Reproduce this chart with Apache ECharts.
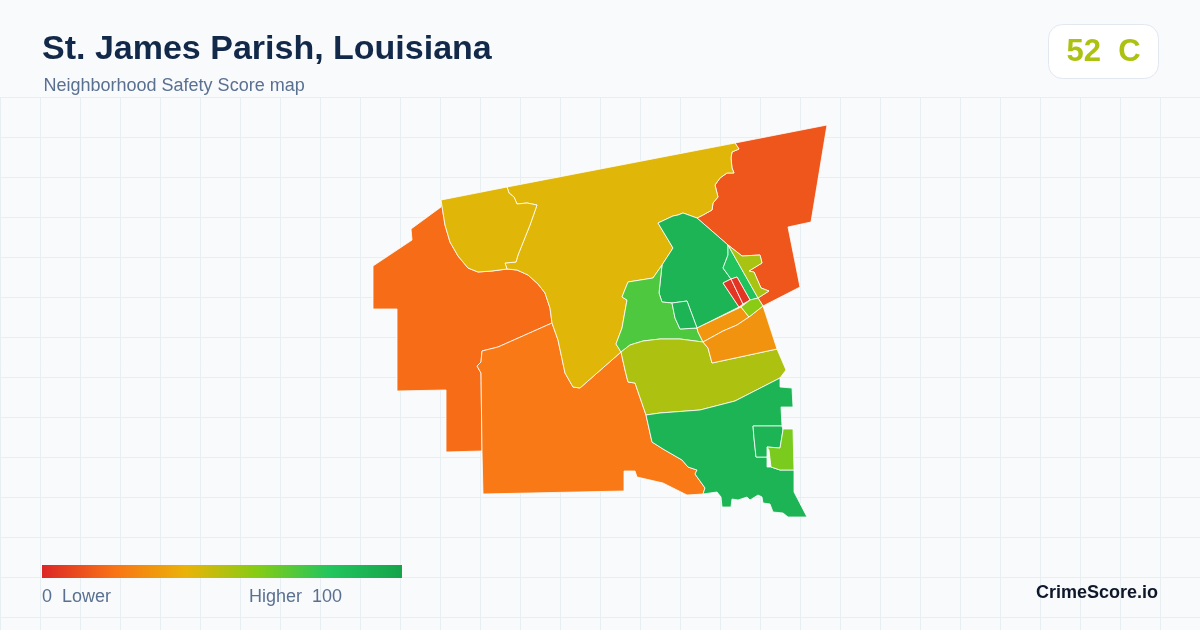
<!DOCTYPE html>
<html>
<head>
<meta charset="utf-8">
<title>St. James Parish, Louisiana</title>
<script src="https://cdn.jsdelivr.net/npm/echarts@6/dist/echarts.min.js"></script>
<style>
html, body { margin: 0; padding: 0; background: #f8fafc; }
#chart { width: 1200px; height: 630px; }
</style>
</head>
<body>
<div id="chart"></div>
<script>
var regionNames = ['North East', 'West', 'South West', 'North', 'North West', 'Center', 'Central West',
  'Central South', 'Inner Tile', 'River East', 'River West', 'Strip North', 'Strip East',
  'Tract A', 'Tract B', 'Tract C', 'South', 'South Inner', 'South East'];
var regionScores = [12.5, 18.5, 22, 42, 42, 90, 71, 52, 90, 31, 30, 81, 53, 4, 4, 59, 90, 90, 62];

// traced outlines, same order as regionNames
var outlineNorthEast = [[827,125],[735,143],[739,149],[732,152],[731,158],[732,168],[734,173],[727,173],[720,178],[715,185],[718,197],[713,203],[712,210],[703,215],[697,218],[728,245],[742,256],[760,255],[762,263],[749,271],[754,272],[761,288],[769,291],[758,298],[763,306],[800,287],[788,227],[811,222]];
var outlineWest = [[441,207],[411,229],[412,240],[373,266],[373,309],[397,309],[397,391],[446,390],[446,452],[482,451],[481,373],[477,366],[481,362],[482,351],[498,347],[552,323],[550,308],[545,293],[538,284],[528,275],[517,270],[507,269],[492,271],[478,272],[468,268],[458,256],[450,242],[445,225],[441,200]];
var outlineSouthWest = [[552,323],[558,340],[565,373],[573,387],[580,388],[621,352],[625,370],[628,382],[635,383],[646,415],[652,442],[663,449],[682,460],[688,467],[697,470],[695,474],[705,488],[703,494],[687,495],[663,483],[637,477],[635,471],[624,471],[624,491],[483,494],[482,451],[481,373],[477,366],[481,362],[482,351],[498,347]];
var outlineNorth = [[507,187],[735,143],[739,149],[732,152],[731,158],[732,168],[734,173],[727,173],[720,178],[715,185],[718,197],[713,203],[712,210],[703,215],[697,218],[683,213],[678,215],[673,216],[658,223],[673,248],[662,265],[653,278],[628,282],[622,297],[627,300],[622,328],[616,344],[621,352],[580,388],[573,387],[565,373],[558,340],[552,323],[550,308],[545,293],[538,284],[528,275],[517,270],[507,269],[505,263],[516,262],[518,255],[530,225],[537,205],[527,203],[517,204],[514,197],[509,193]];
var outlineNorthWest = [[441,200],[507,187],[509,193],[514,197],[517,204],[527,203],[537,205],[530,225],[518,255],[516,262],[505,263],[507,269],[492,271],[478,272],[468,268],[458,256],[450,242],[445,225]];
var outlineCenter = [[658,223],[673,216],[678,215],[683,213],[697,218],[728,245],[728,255],[723,268],[731,279],[723,283],[739,307],[697,328],[687,301],[672,303],[662,302],[659,293],[662,265],[673,248]];
var outlineCentralWest = [[628,282],[653,278],[662,265],[659,293],[662,302],[672,303],[675,318],[680,329],[697,328],[698,332],[703,342],[680,339],[660,339],[643,341],[630,345],[621,352],[616,344],[622,328],[627,300],[622,297]];
var outlineCentralSouth = [[621,352],[630,345],[643,341],[660,339],[680,339],[703,342],[708,348],[712,363],[777,349],[786,370],[780,378],[735,401],[700,410],[660,413],[646,415],[635,383],[628,382],[625,370]];
var outlineInnerTile = [[672,303],[687,301],[697,328],[680,329],[675,318]];
var outlineRiverEast = [[697,328],[741,307],[749,317],[737,325],[723,331],[703,342],[698,332]];
var outlineRiverWest = [[703,342],[723,331],[737,325],[749,317],[763,306],[777,349],[712,363],[708,348]];
var outlineStripNorth = [[728,245],[758,298],[750,300],[737,277],[731,279],[723,268],[728,255]];
var outlineStripEast = [[728,245],[742,256],[760,255],[762,263],[749,271],[754,272],[761,288],[769,291],[758,298]];
var outlineTractA = [[723,283],[731,279],[743,304],[739,307]];
var outlineTractB = [[731,279],[737,277],[750,300],[743,304]];
var outlineTractC = [[741,307],[750,300],[758,298],[763,306],[749,317]];
var outlineSouth = [[646,415],[660,413],[700,410],[735,401],[780,378],[780,387],[792,388],[793,407],[781,407],[782,426],[753,426],[754,438],[756,457],[767,457],[767,467],[771,467],[780,470],[794,470],[794,492],[807,517],[788,517],[783,513],[773,512],[770,504],[763,503],[762,497],[758,495],[750,500],[747,497],[738,500],[732,499],[731,507],[722,507],[721,497],[717,492],[703,494],[705,488],[695,474],[697,470],[688,467],[682,460],[663,449],[652,442]];
var outlineSouthInner = [[753,426],[782,426],[783,430],[780,448],[767,447],[767,457],[756,457],[754,438]];
var outlineSouthEast = [[783,429],[793,429],[794,470],[780,470],[771,467],[769,450],[767,447],[780,448],[783,430]];

var regionOutlines = [outlineNorthEast, outlineWest, outlineSouthWest, outlineNorth, outlineNorthWest, outlineCenter,
  outlineCentralWest, outlineCentralSouth, outlineInnerTile, outlineRiverEast, outlineRiverWest, outlineStripNorth,
  outlineStripEast, outlineTractA, outlineTractB, outlineTractC, outlineSouth, outlineSouthInner, outlineSouthEast];

var scaleColors = ['#dc2626', '#f97316', '#eab308', '#84cc16', '#22c55e', '#16a34a'];

var overallScore = '52  C';
var overallColor = '#adc210';

var mapData = [];
var features = [];
regionNames.forEach(function (name, i) {
  mapData.push({ name: name, value: regionScores[i] });
  features.push({
    type: 'Feature',
    properties: { name: name },
    geometry: { type: 'Polygon', coordinates: [regionOutlines[i].concat([regionOutlines[i][0]])] }
  });
});
echarts.registerMap('stjames', { type: 'FeatureCollection', features: features });

// the legend bar, the visualMap one has rounded ends
var barStops = scaleColors.map(function (c, i) {
  return { offset: i / (scaleColors.length - 1), color: c };
});

var myChart = echarts.init(document.getElementById('chart'));
var option = {
  animation: false,
  backgroundColor: '#f8fafc',
  title: [
    { text: 'St. James Parish, Louisiana', left: 42, top: 33, padding: 0,
      textStyle: { fontFamily: 'Liberation Sans', fontSize: 34, fontWeight: 'bold', color: '#12294a' } },
    { text: 'Neighborhood Safety Score map', left: 43.5, top: 77, padding: 0,
      textStyle: { fontFamily: 'Liberation Sans', fontSize: 18, fontWeight: 'normal', color: '#5a7091' } }
  ],
  grid: { left: 0, top: 97, width: 1200, height: 533 },
  xAxis: {
    type: 'value', min: 0, max: 1200, interval: 40,
    axisLine: { show: false }, axisTick: { show: false }, axisLabel: { show: false },
    splitLine: { lineStyle: { color: '#e8eff3', width: 1 } }
  },
  yAxis: {
    type: 'value', min: 0, max: 533, interval: 40, inverse: true,
    axisLine: { show: false }, axisTick: { show: false }, axisLabel: { show: false },
    splitLine: { lineStyle: { color: '#e8eff3', width: 1 } }
  },
  visualMap: {
    type: 'continuous', min: 0, max: 100, show: false, seriesIndex: 0,
    inRange: { color: scaleColors }
  },
  series: [{
    type: 'map',
    map: 'stjames',
    projection: { project: function (p) { return p; }, unproject: function (p) { return p; } },
    left: 373, top: 125, width: 454, height: 392,
    roam: false,
    silent: true,
    label: { show: false },
    itemStyle: { borderColor: '#ffffff', borderWidth: 0.8 },
    data: mapData
  }],
  graphic: [
    { type: 'rect', z: 10, shape: { x: 42, y: 565, width: 360, height: 13 },
      style: { fill: new echarts.graphic.LinearGradient(0, 0, 1, 0, barStops) } },
    { type: 'rect', z: 10, shape: { x: 1048.5, y: 24.5, width: 110, height: 54, r: 14 },
      style: { fill: '#ffffff', stroke: '#e2e8f0', lineWidth: 1 } },
    { type: 'text', z: 10, x: 1103.5, y: 52, style: { text: overallScore, fill: overallColor, align: 'center', verticalAlign: 'middle',
      font: 'bold 31px "Liberation Sans"' } },
    { type: 'text', z: 10, x: 42, y: 597, style: { text: '0  Lower', fill: '#5a7091', align: 'left', verticalAlign: 'middle',
      font: '18px "Liberation Sans"' } },
    { type: 'text', z: 10, x: 249, y: 597, style: { text: 'Higher  100', fill: '#5a7091', align: 'left', verticalAlign: 'middle',
      font: '18px "Liberation Sans"' } },
    { type: 'text', z: 10, x: 1158, y: 593, style: { text: 'CrimeScore.io', fill: '#0f172a', align: 'right', verticalAlign: 'middle',
      font: 'bold 18px "Liberation Sans"' } }
  ]
};
myChart.setOption(option);
</script>
</body>
</html>
